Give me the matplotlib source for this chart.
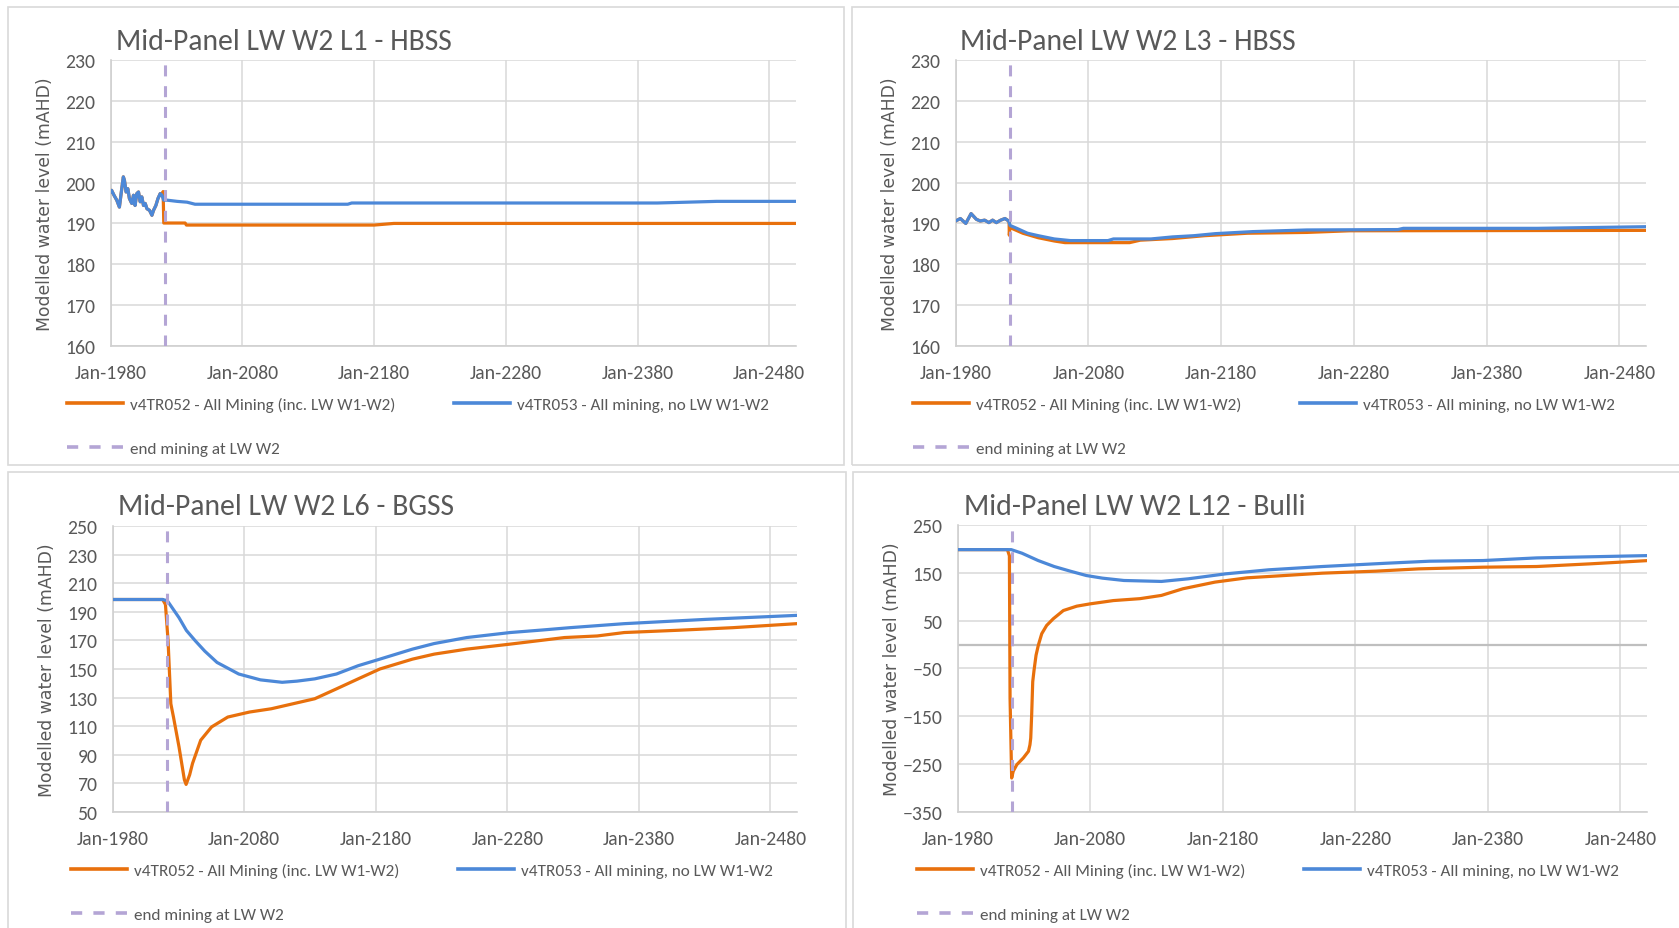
import matplotlib
matplotlib.use("Agg")
import numpy as np
import matplotlib.pyplot as plt
from matplotlib import font_manager
from matplotlib.font_manager import FontProperties
from matplotlib.lines import Line2D
from matplotlib.patches import Rectangle

# ---------------------------------------------------------------- data
x_ticks = [1980, 2080, 2180, 2280, 2380, 2480]
x_tick_labels = ["Jan-1980", "Jan-2080", "Jan-2180", "Jan-2280", "Jan-2380", "Jan-2480"]
mining_end = 2021.0

series_052 = "v4TR052 - All Mining (inc. LW W1-W2)"
series_053 = "v4TR053 - All mining, no LW W1-W2"
series_end = "end mining at LW W2"

# L1 - HBSS
l1_hist_year = [1980.0, 1980.7, 1982.5, 1984.6, 1986.6, 1988.4, 1989.6, 1990.4, 1991.7, 1993.0,
                1994.2, 1996.0, 1997.3, 1998.5, 1999.8, 2001.1, 2002.4, 2003.6, 2004.9, 2006.2,
                2007.5, 2009.5, 2011.3, 2012.5, 2014.3, 2015.9, 2017.6, 2018.9]
l1_hist_level = [197.8, 198.1, 196.9, 195.7, 194.0, 198.5, 201.4, 200.6, 197.7, 198.5,
                 196.1, 194.9, 196.9, 194.4, 197.3, 197.7, 195.3, 196.5, 194.4, 194.9,
                 193.6, 193.2, 192.0, 193.2, 194.4, 196.1, 197.3, 196.9]
l1_052_year = [2019.8, 2020.3, 2036.5, 2037.5, 2180.0, 2195.0, 2500.0]
l1_052_level = [197.8, 190.1, 190.1, 189.6, 189.6, 190.0, 190.0]
l1_053_year = [2020.2, 2022.7, 2030.4, 2038.0, 2044.0, 2160.0, 2163.0, 2395.0, 2440.0, 2500.0]
l1_053_level = [195.7, 195.7, 195.4, 195.2, 194.7, 194.7, 195.0, 195.0, 195.4, 195.4]

# L3 - HBSS
l3_hist_year = [1980.0, 1983.5, 1987.6, 1991.6, 1995.6, 1998.5, 2001.8, 2005.0, 2007.8, 2010.6,
                2013.9, 2017.1, 2019.9]
l3_hist_level = [190.6, 191.2, 190.0, 192.4, 191.0, 190.6, 190.8, 190.2, 190.8, 190.2,
                 190.8, 191.2, 190.6]
l3_052_year = [2020.2, 2020.4, 2020.8, 2030.6, 2042.2, 2054.3, 2062.3, 2111.0, 2119.0, 2143.3,
               2167.5, 2199.8, 2244.4, 2276.8, 2500.0]
l3_052_level = [190.6, 187.1, 189.0, 187.6, 186.5, 185.7, 185.3, 185.3, 185.9, 186.3,
                187.0, 187.6, 187.8, 188.2, 188.3]
l3_053_year = [2021.0, 2026.0, 2034.1, 2042.2, 2054.3, 2066.4, 2094.7, 2098.8, 2127.1, 2143.3,
               2159.5, 2175.6, 2203.9, 2244.4, 2313.1, 2317.2, 2418.3, 2500.0]
l3_053_level = [189.5, 188.8, 187.6, 187.0, 186.2, 185.8, 185.8, 186.2, 186.2, 186.7,
                187.0, 187.5, 188.0, 188.4, 188.5, 188.8, 188.8, 189.2]

# L6 - BGSS
l6_hist_year = [1980.0, 2018.0]
l6_hist_level = [198.6, 198.6]
l6_052_year = [2020.1, 2022.1, 2024.2, 2026.2, 2030.4, 2034.5, 2035.8, 2038.5, 2040.7, 2046.9,
               2055.2, 2067.5, 2084.0, 2100.6, 2117.1, 2133.6, 2150.1, 2166.6, 2183.1, 2207.9,
               2224.4, 2249.2, 2282.2, 2302.9, 2323.5, 2348.3, 2368.9, 2410.1, 2451.5, 2500.0]
l6_052_level = [195.1, 169.7, 125.7, 116.4, 95.6, 72.5, 69.3, 76.0, 84.0, 100.2,
                109.5, 116.4, 119.9, 122.2, 125.7, 129.2, 136.1, 143.1, 150.0, 156.9,
                160.4, 163.9, 167.4, 169.7, 172.0, 173.1, 175.5, 177.1, 178.9, 181.7]
l6_053_year = [2020.5, 2022.1, 2030.4, 2036.0, 2042.8, 2050.0, 2059.3, 2075.8, 2092.3, 2108.8,
               2120.0, 2133.6, 2150.1, 2166.6, 2183.1, 2207.9, 2224.4, 2249.2, 2282.2, 2307.0,
               2327.6, 2368.9, 2430.8, 2500.0]
l6_053_level = [198.0, 197.0, 185.9, 177.0, 169.7, 162.5, 154.6, 146.5, 142.4, 140.7,
                141.5, 143.1, 146.5, 152.3, 156.9, 163.9, 167.8, 172.0, 175.5, 177.3,
                178.9, 181.7, 184.7, 187.5]

# L12 - Bulli
l12_hist_year = [1980.0, 2017.5]
l12_hist_level = [198.5, 198.5]
l12_052_year = [2019.0, 2019.5, 2020.7, 2021.9, 2024.6, 2029.5, 2033.4, 2034.5, 2035.1, 2035.8,
                2036.6, 2037.6, 2039.1, 2040.8, 2043.4, 2047.1, 2052.1, 2059.7, 2069.8, 2079.8,
                2097.4, 2117.5, 2133.7, 2149.9, 2174.1, 2198.4, 2226.7, 2255.0, 2295.4, 2327.8,
                2376.3, 2416.8, 2457.2, 2500.0]
l12_052_level = [185.6, -112.0, -279.0, -264.8, -251.0, -237.0, -223.0, -209.5, -195.5, -147.0,
                 -77.6, -53.5, -22.3, -1.6, 22.8, 40.0, 54.0, 71.2, 80.3, 85.1,
                 92.0, 96.0, 102.8, 116.7, 130.6, 139.6, 144.4, 149.3, 153.5, 158.3,
                 161.8, 163.2, 168.8, 175.5]
l12_053_year = [2020.4, 2028.5, 2040.7, 2052.8, 2064.9, 2077.0, 2089.2, 2105.4, 2133.7, 2153.9,
                2182.2, 2214.5, 2255.0, 2303.5, 2335.9, 2376.3, 2416.8, 2500.0]
l12_053_level = [198.5, 191.0, 175.7, 163.2, 153.5, 144.4, 138.9, 134.0, 132.0, 137.5,
                 147.9, 156.3, 163.2, 170.1, 174.3, 175.7, 181.2, 186.0]

# ---------------------------------------------------------------- style
ORANGE = "#E8700C"
BLUE = "#4C88D8"
PURPLE = "#B4A5D5"
GRID = "#D9D9D9"
TEXT = "#595959"


def first_font(candidates):
    for name in candidates:
        try:
            font_manager.findfont(FontProperties(family=name), fallback_to_default=False)
            return name
        except ValueError:
            continue
    return "DejaVu Sans"


UI_FONT = first_font(["Carlito", "Liberation Sans Narrow", "Lato"])

W, H = 1679, 929
fig = plt.figure(figsize=(W / 100, H / 100), dpi=100)
fig.patch.set_facecolor("white")


def px_rect(left, top, right, bottom):
    return [left / W, 1 - bottom / H, (right - left) / W, (bottom - top) / H]


panels = [
    dict(title="Mid-Panel LW W2 L1 - HBSS", box=(7.5, 7.5, 844, 466),
         axes=(110.7, 61, 795.6, 347), title_xy=(116, 49.5), legend_x=67,
         ylim=(160, 230), yticks=np.arange(160, 231, 10),
         hist=(l1_hist_year, l1_hist_level),
         s052=(l1_052_year, l1_052_level), s053=(l1_053_year, l1_053_level)),
    dict(title="Mid-Panel LW W2 L3 - HBSS", box=(852, 7.5, 1690, 466),
         axes=(955.7, 61, 1646, 347), title_xy=(960, 49.5), legend_x=913,
         ylim=(160, 230), yticks=np.arange(160, 231, 10),
         hist=(l3_hist_year, l3_hist_level),
         s052=(l3_052_year, l3_052_level), s053=(l3_053_year, l3_053_level)),
    dict(title="Mid-Panel LW W2 L6 - BGSS", box=(8, 473.3, 846, 940),
         axes=(112.7, 527, 796.7, 813), title_xy=(118, 515), legend_x=71,
         ylim=(50, 250), yticks=np.arange(50, 251, 20),
         hist=(l6_hist_year, l6_hist_level),
         s052=(l6_052_year, l6_052_level), s053=(l6_053_year, l6_053_level)),
    dict(title="Mid-Panel LW W2 L12 - Bulli", box=(853, 473.3, 1690, 940),
         axes=(957.7, 526, 1647, 813), title_xy=(964, 515), legend_x=917,
         ylim=(-350, 250), yticks=np.arange(-350, 251, 100),
         hist=(l12_hist_year, l12_hist_level),
         s052=(l12_052_year, l12_052_level), s053=(l12_053_year, l12_053_level),
         zero_line=True),
]

for p in panels:
    bl, bt, br, bb = p["box"]
    fig.add_artist(Rectangle((bl / W, 1 - bb / H), (br - bl) / W, (bb - bt) / H,
                             transform=fig.transFigure, fill=False,
                             edgecolor=GRID, linewidth=1.2))

    al, at, ar, ab = p["axes"]
    ax = fig.add_axes(px_rect(al, at, ar, ab))
    ax.set_facecolor("white")

    hy, hl = p["hist"]
    y052 = list(hy) + list(p["s052"][0])
    v052 = list(hl) + list(p["s052"][1])
    y053 = list(hy) + list(p["s053"][0])
    v053 = list(hl) + list(p["s053"][1])

    ax.plot(y052, v052, color=ORANGE, lw=2.3, zorder=3, solid_joinstyle="round")
    ax.plot(y053, v053, color=BLUE, lw=2.3, zorder=4, solid_joinstyle="round")
    ax.axvline(mining_end, color=PURPLE, lw=2.2, ls=(0, (3.6, 3.2)), zorder=5)
    if p.get("zero_line"):
        ax.axhline(0, color="#BFBFBF", lw=1.6, zorder=1.5)

    ax.set_xlim(1980, 2500)
    ax.set_ylim(*p["ylim"])
    ax.set_xticks(x_ticks)
    ax.set_xticklabels(x_tick_labels)
    ax.set_yticks(p["yticks"])
    ax.grid(True, color=GRID, lw=1.1)
    ax.set_axisbelow(True)
    for side in ("top", "right"):
        ax.spines[side].set_visible(False)
    for side in ("left", "bottom"):
        ax.spines[side].set_color("#D0D0D0")
        ax.spines[side].set_linewidth(1.2)
    ax.tick_params(length=0, labelcolor=TEXT, labelsize=14.2)
    ax.tick_params(axis="x", pad=13)
    ax.tick_params(axis="y", pad=11)
    for lab in ax.get_xticklabels() + ax.get_yticklabels():
        lab.set_fontfamily(UI_FONT)

    ax.set_ylabel("Modelled water level (mAHD)", fontsize=12.4, color=TEXT,
                  family="DejaVu Sans", va="center")
    ax.yaxis.set_label_coords(-65.7 / (ar - al), 0.5)

    tx, ty = p["title_xy"]
    fig.text(tx / W, 1 - ty / H, p["title"], fontsize=21.3, color=TEXT,
             family=UI_FONT, ha="left", va="baseline")

    handles = [Line2D([], [], color=ORANGE, lw=2.6),
               Line2D([], [], color=PURPLE, lw=2.6, ls=(0, (3.1, 3.1))),
               Line2D([], [], color=BLUE, lw=2.6)]
    labels = [series_052, series_end, series_053]
    leg = ax.legend(handles, labels, ncol=2, loc="upper left",
                    bbox_to_anchor=(p["legend_x"] / W, 1 - (ab + 50.5) / H),
                    bbox_transform=fig.transFigure, frameon=False,
                    borderpad=0, borderaxespad=0, handlelength=3.3,
                    handletextpad=0.37, columnspacing=3.45, labelspacing=1.75,
                    prop=dict(family=UI_FONT, size=12.3))
    for t in leg.get_texts():
        t.set_color(TEXT)

fig.savefig("out.png", dpi=100, facecolor="white")
